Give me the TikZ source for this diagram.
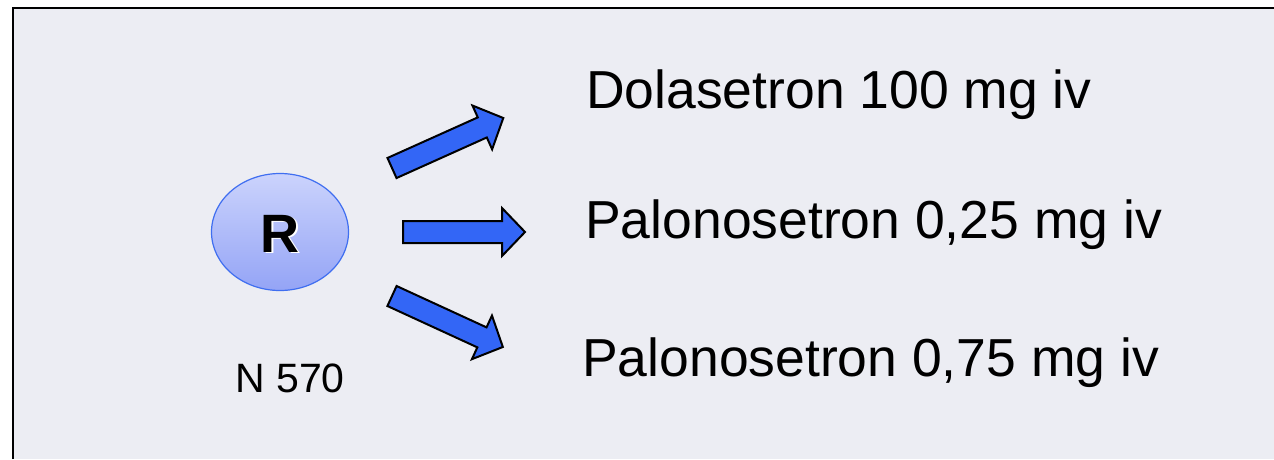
\documentclass[tikz,border=0pt]{standalone}
\usepackage{fontspec}
\setmainfont{Liberation Sans}
\usetikzlibrary{shapes.geometric}
\definecolor{panelbg}{HTML}{ECEDF3}
\definecolor{arrowblue}{HTML}{3366F6}
\definecolor{ringblue}{HTML}{3F6EF0}
\definecolor{ovaltop}{HTML}{CBD3FC}
\definecolor{ovalbottom}{HTML}{94A4F6}
\begin{document}
\begin{tikzpicture}[x=1pt,y=-1pt,
  blockarrow/.style={fill=arrowblue, draw=black, line width=2pt, line join=miter},
  armlabel/.style={anchor=base west, inner sep=0pt, font=\fontsize{53.5}{60}\selectfont},
  rletter/.style={anchor=base, inner sep=0pt, font=\bfseries\fontsize{54}{60}\selectfont}]
\useasboundingbox (0,0) rectangle (1274,459);
% panel
\fill[panelbg] (13,8) rectangle (1274,459);
\draw[line width=2.5pt] (13,459) -- (13,8) -- (1274,8);
% randomisation oval
\node[ellipse, draw=ringblue, line width=1.2pt, top color=ovaltop, bottom color=ovalbottom,
      minimum width=137pt, minimum height=117pt, inner sep=0pt] (rand) at (280,232) {};
\node[rletter, text=white] (rglow) at (281.6,253.6) {R};
\node[rletter, text=black] (rtext) at (280,252) {R};
\node[anchor=base, inner sep=0pt, font=\fontsize{41}{48}\selectfont] (ncount) at (290,392) {N 570};
% block arrows
\draw[blockarrow, shift={(392,168)}, rotate=24.2]
  (0,-11) -- (99,-11) -- (99,-24) -- (122,0) -- (99,24) -- (99,11) -- (0,11) -- cycle;
\draw[blockarrow, shift={(403,232)}]
  (0,-11) -- (99,-11) -- (99,-24) -- (122,0) -- (99,24) -- (99,11) -- (0,11) -- cycle;
\draw[blockarrow, shift={(392,296)}, rotate=-24.7]
  (0,-11) -- (99,-11) -- (99,-24) -- (122,0) -- (99,24) -- (99,11) -- (0,11) -- cycle;
% treatment arms
\node[armlabel] (dola) at (586,108) {Dolasetron 100 mg iv};
\node[armlabel] (palolow) at (585,238) {Palonosetron 0,25 mg iv};
\node[armlabel] (palohigh) at (582,376) {Palonosetron 0,75 mg iv};
\end{tikzpicture}
\end{document}
